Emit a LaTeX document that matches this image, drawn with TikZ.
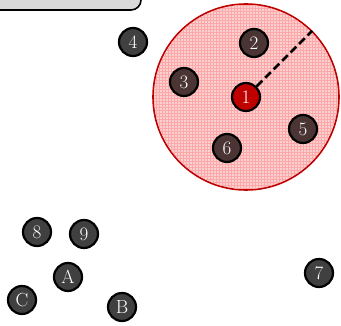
\documentclass[tikz,border=0pt]{standalone}
\usepackage{xcolor}
\definecolor{dgray}{RGB}{64,64,64}
\definecolor{dbrown}{RGB}{74,52,52}
\definecolor{dred}{RGB}{192,0,0}
\definecolor{lpink}{RGB}{248,210,210}
\definecolor{lgray}{RGB}{217,217,217}
\usepackage{tikz}
\usetikzlibrary{patterns}

\begin{document}
\begin{tikzpicture}[
  x=1pt, y=-1pt,
  pt/.style={circle,draw=black,line width=2.2pt,fill=dgray,minimum size=28pt,inner sep=0pt,text=white,font=\fontsize{19}{19}\selectfont},
  inpt/.style={pt,fill=dbrown},
  centre/.style={pt,fill=dred},
  zone/.style={circle,draw=dred,line width=1.6pt,fill=lpink,minimum size=186pt,inner sep=0pt},
  banner/.style={rectangle,draw=black,line width=1.6pt,fill=lgray,rounded corners=10pt,minimum width=160pt,minimum height=30pt,inner sep=0pt}
]
  \useasboundingbox (0,0) rectangle (341,326);
  \clip (0,0) rectangle (341,326);

  % title box (cut off at the top left)
  \node[banner] (title) at (61,-5) {};

  % search radius around point 1
  \node[zone] (range) at (246,97) {};
  \fill[pattern=grid,pattern color=red!35] (range.center) circle (92);

  % points inside the radius
  \node[inpt] (p2) at (254,43) {2};
  \node[inpt] (p3) at (184,82) {3};
  \node[inpt] (p5) at (303,129) {5};
  \node[inpt] (p6) at (227,148) {6};
  \node[centre] (p1) at (range.center) {1};

  % radius line
  \draw[line width=2.6pt,dash pattern=on 8pt off 4pt] (p1) -- (range.45);

  % points outside
  \node[pt] (p4) at (133,42) {4};
  \node[pt] (p7) at (319,273) {7};
  \node[pt] (p8) at (37,232) {8};
  \node[pt] (p9) at (84,234) {9};
  \node[pt] (pa) at (68,277) {A};
  \node[pt] (pb) at (122,307) {B};
  \node[pt] (pc) at (22,300) {C};
\end{tikzpicture}
\end{document}
